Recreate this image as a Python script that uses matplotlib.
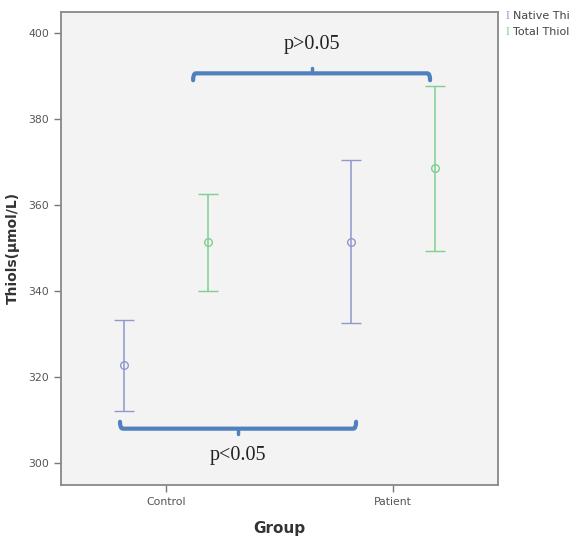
import matplotlib.pyplot as plt
import numpy as np
from matplotlib.path import Path
from matplotlib.patches import PathPatch

groups = ['Control', 'Patient']
native_mean = [322.8, 351.5]
native_low = [312.3, 332.6]
native_high = [333.3, 370.5]
total_mean = [351.4, 368.7]
total_low = [340.2, 349.5]
total_high = [362.6, 387.7]
series_names = ['Native Thiols', 'Total Thiols']

c_native = '#8e98cf'
c_total = '#7fcf8f'
c_brace = '#4f81bd'

fig = plt.figure(figsize=(5.7, 5.38), dpi=100)
ax = fig.add_axes([0.107, 0.0985, 0.767, 0.8795])
ax.set_facecolor('#f3f3f3')

xpos = np.arange(len(groups))
off = 0.185

def draw(x, mean, low, high, col):
    mean = np.array(mean); low = np.array(low); high = np.array(high)
    ax.errorbar(x, mean, yerr=[mean - low, high - mean], fmt='o', color=col,
                mfc='none', mec=col, ms=5.5, mew=1, elinewidth=1.1,
                capsize=7, capthick=1.1)

draw(xpos - off, native_mean, native_low, native_high, c_native)
draw(xpos + off, total_mean, total_low, total_high, c_total)

ax.set_xlim(-0.463, 1.463)
ax.set_ylim(295, 405)
ax.set_xticks(xpos)
ax.set_xticklabels(groups)
ax.set_yticks([300, 320, 340, 360, 380, 400])
ax.tick_params(axis='both', colors='#777777', labelcolor='#555555',
               labelsize=7.8, length=5, width=1)
for s in ax.spines.values():
    s.set_color('#888888')
    s.set_linewidth(1.3)

ax.set_ylabel('Thiols(μmol/L)', fontsize=10, fontweight='bold', color='#333333', labelpad=6)
ax.set_xlabel('Group', fontsize=11, fontweight='bold', color='#333333', labelpad=10)

# significance braces with small curled ends
def brace(x0, x1, y, d, label, ty):
    xm = (x0 + x1) / 2
    r = 0.012
    verts = [(x0, y - d), (x0, y), (x0 + r, y), (x1 - r, y), (x1, y), (x1, y - d)]
    codes = [Path.MOVETO, Path.CURVE3, Path.CURVE3, Path.LINETO, Path.CURVE3, Path.CURVE3]
    ax.add_patch(PathPatch(Path(verts, codes), fill=False, ec=c_brace, lw=3,
                           capstyle='round', joinstyle='round'))
    ax.plot([xm, xm], [y, y + d * 0.8], color=c_brace, lw=2.5, solid_capstyle='round')
    ax.text(xm, ty, label, ha='center', va='center', fontsize=14.5,
            family='Liberation Serif', color='#222222')

brace(0.119, 1.163, 390.7, 1.6, 'p>0.05', 397.4)
brace(-0.203, 0.837, 308.1, -1.6, 'p<0.05', 301.9)

# legend outside on the right (cut by figure edge as in the original)
for i, (name, col) in enumerate(zip(series_names, [c_native, c_total])):
    yy = 1 - (16 + 16 * i) / 538
    fig.text(507 / 570, yy, 'I', color=col, fontsize=8.5, va='center', ha='center',
             family='Liberation Serif')
    fig.text(513 / 570, yy, name, color='#444444', fontsize=8, va='center', ha='left')

fig.savefig('out.png', dpi=100)
